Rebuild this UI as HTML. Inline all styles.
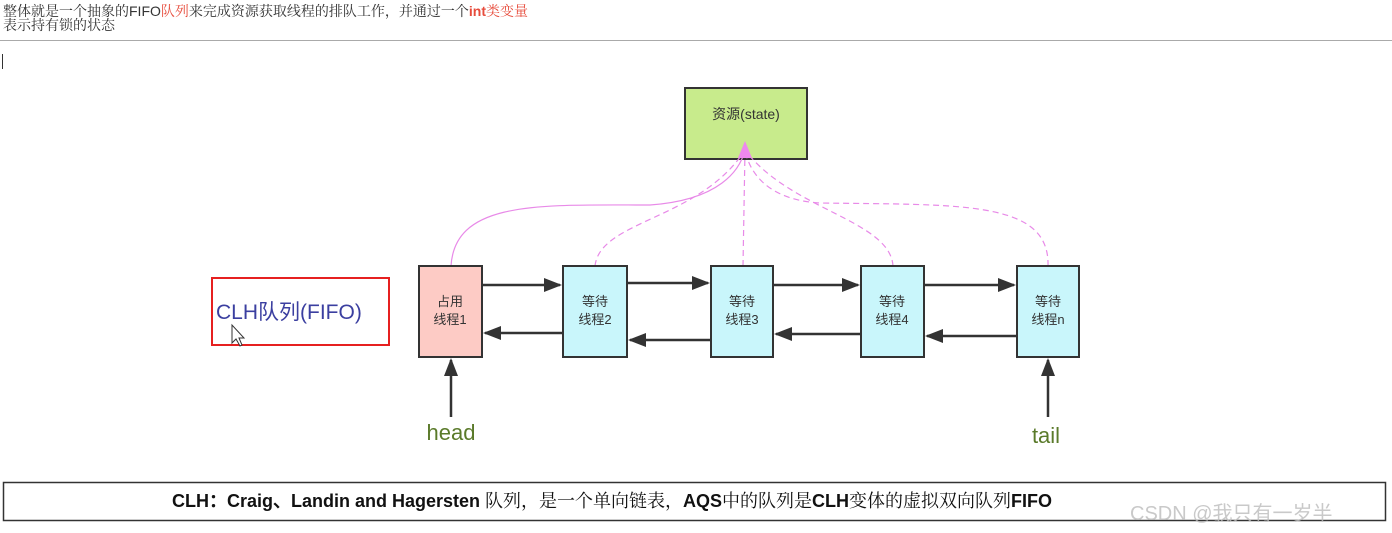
<!DOCTYPE html>
<html><head><meta charset="utf-8"><style>
body{margin:0;width:1392px;height:533px;background:#fff;overflow:hidden;position:relative;font-family:"Liberation Sans","Noto Sans CJK SC",sans-serif}
.t{position:absolute;left:3px;font-family:"Liberation Serif","Noto Serif CJK SC",serif;font-size:14px;color:#333;line-height:15px}
.r{color:#e74c3c}
</style></head><body>
<div class="t" style="top:4px">整体就是一个抽象的<span style="font-family:'Liberation Sans'">FIFO</span><span class="r">队列</span>来完成资源获取线程的排队工作，并通过一个<span class="r" style="font-family:'Liberation Sans';font-weight:bold">int</span><span class="r">类变量</span></div>
<div class="t" style="top:19px">表示持有锁的状态</div>
<div style="position:absolute;left:0;top:40px;width:1392px;height:1px;background:#aaa"></div>
<div style="position:absolute;left:2px;top:54px;width:1px;height:15px;background:#333"></div>
<svg width="1392" height="533" style="position:absolute;left:0;top:0" font-family="Liberation Sans,Noto Sans CJK SC,sans-serif">
<defs>
<marker id="a" markerWidth="10" markerHeight="10" refX="9" refY="5" orient="auto" markerUnits="userSpaceOnUse"><path d="M0,0L10,5L0,10z" fill="#333"/></marker>
<marker id="a2" markerWidth="18" markerHeight="14" refX="16" refY="7" orient="auto" markerUnits="userSpaceOnUse"><path d="M0,0L18,7L0,14z" fill="#333"/></marker>
</defs>
<rect x="685" y="88" width="122" height="71" fill="#c8eb8c" stroke="#333" stroke-width="2"/>
<text x="746" y="119" font-size="14" text-anchor="middle" fill="#333">资源(state)</text>
<g fill="none" stroke="#e88ae8" stroke-width="1.2">
<path d="M451,266 C455,200 540,205 650,205 C720,200 740,170 745,150"/>
<path d="M595,266 C600,220 700,220 745,150" stroke-dasharray="6,4"/>
<path d="M743,266 L745,150" stroke-dasharray="6,4"/>
<path d="M893,266 C890,220 790,210 745,150" stroke-dasharray="6,4"/>
<path d="M1048,266 C1050,200 960,205 820,203 C770,200 750,175 745,150" stroke-dasharray="6,4"/>
</g>
<path d="M738,158 L745,141 L752,158z" fill="#ee88ee"/>
<rect x="212" y="278" width="177" height="67" fill="#fff" stroke="#e62020" stroke-width="2"/>
<text x="216" y="319" font-size="21" fill="#3b3fa0">CLH队列(FIFO)</text>
<path d="M232,325 L232,343 L236,339 L240,346 L242,345 L239,338 L244,338z" fill="#fff" stroke="#333" stroke-width="1"/>
<rect x="419" y="266" width="63" height="91" fill="#fdcbc5" stroke="#333" stroke-width="2"/>
<rect x="563" y="266" width="64" height="91" fill="#c9f6fb" stroke="#333" stroke-width="2"/>
<rect x="711" y="266" width="62" height="91" fill="#c9f6fb" stroke="#333" stroke-width="2"/>
<rect x="861" y="266" width="63" height="91" fill="#c9f6fb" stroke="#333" stroke-width="2"/>
<rect x="1017" y="266" width="62" height="91" fill="#c9f6fb" stroke="#333" stroke-width="2"/>
<g font-size="13" fill="#333" text-anchor="middle">
<text x="450" y="306">占用</text><text x="450" y="324">线程1</text>
<text x="595" y="306">等待</text><text x="595" y="324">线程2</text>
<text x="742" y="306">等待</text><text x="742" y="324">线程3</text>
<text x="892" y="306">等待</text><text x="892" y="324">线程4</text>
<text x="1048" y="306">等待</text><text x="1048" y="324">线程n</text>
</g>
<g stroke="#333" stroke-width="2.5" marker-end="url(#a2)">
<line x1="482" y1="285" x2="560" y2="285"/>
<line x1="627" y1="283" x2="708" y2="283"/>
<line x1="773" y1="285" x2="858" y2="285"/>
<line x1="924" y1="285" x2="1014" y2="285"/>
<line x1="563" y1="333" x2="485" y2="333"/>
<line x1="711" y1="340" x2="630" y2="340"/>
<line x1="861" y1="334" x2="776" y2="334"/>
<line x1="1017" y1="336" x2="927" y2="336"/>
<line x1="451" y1="417" x2="451" y2="360"/>
<line x1="1048" y1="417" x2="1048" y2="360"/>
</g>
<text x="451" y="440" font-size="22" fill="#5a7a2a" text-anchor="middle">head</text>
<text x="1046" y="443" font-size="22" fill="#5a7a2a" text-anchor="middle">tail</text>
<rect x="3.5" y="482.5" width="1382" height="38" fill="none" stroke="#333" stroke-width="1.5"/>
<text x="172" y="507" font-size="18" fill="#111"><tspan font-weight="bold" font-family="Liberation Sans,sans-serif">CLH：Craig、Landin and Hagersten </tspan><tspan font-family="Liberation Serif,Noto Serif CJK SC,serif">队列，是一个单向链表，</tspan><tspan font-weight="bold">AQS</tspan><tspan font-family="Liberation Serif,Noto Serif CJK SC,serif">中的队列是</tspan><tspan font-weight="bold">CLH</tspan><tspan font-family="Liberation Serif,Noto Serif CJK SC,serif">变体的虚拟双向队列</tspan><tspan font-weight="bold">FIFO</tspan></text>
<text x="1130" y="520" font-size="20" fill="#bbb" fill-opacity="0.8">CSDN @我只有一岁半</text>
</svg>
</body></html>
